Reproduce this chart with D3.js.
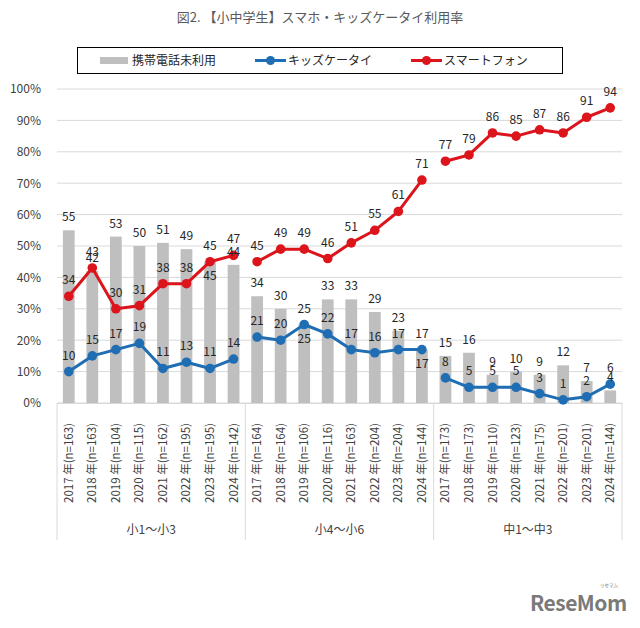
<!DOCTYPE html>
<html><head><meta charset="utf-8">
<script src="https://cdn.jsdelivr.net/npm/d3@7"></script>
<style>
body{margin:0;background:#fff;}
text{font-family:"Noto Sans CJK JP","Noto Sans",sans-serif;}
</style></head>
<body><svg id="c" width="640" height="628"></svg>
<script>
const title = "図2. 【小中学生】スマホ・キッズケータイ利用率";
const groups = ["小1～小3", "小4～小6", "中1～中3"];
const years = ["2017", "2018", "2019", "2020", "2021", "2022", "2023", "2024"];
const sampleSizes = [
  [163, 163, 104, 115, 162, 195, 195, 142],
  [164, 164, 106, 116, 163, 204, 204, 144],
  [173, 173, 110, 123, 175, 201, 201, 144]
];
const noPhone = [
  [55, 42, 53, 50, 51, 49, 45, 44],
  [34, 30, 25, 33, 33, 29, 23, 17],
  [15, 16, 9, 10, 9, 12, 7, 4]
];
const kidsPhone = [
  [10, 15, 17, 19, 11, 13, 11, 14],
  [21, 20, 25, 22, 17, 16, 17, 17],
  [8, 5, 5, 5, 3, 1, 2, 6]
];
const smartphone = [
  [34, 43, 30, 31, 38, 38, 45, 47],
  [45, 49, 49, 46, 51, 55, 61, 71],
  [77, 79, 86, 85, 87, 86, 91, 94]
];
const seriesNames = ["携帯電話未利用", "キッズケータイ", "スマートフォン"];
const yTicks = [0, 10, 20, 30, 40, 50, 60, 70, 80, 90, 100];

(function () {
const svg = d3.select("#c");
const colGray = "#bfbfbf", colBlue = "#1f6db3", colRed = "#dc141c";
const pLeft = 57, pRight = 622, pTop = 89, pBottom = 403;

const cats = [];
groups.forEach((g, gi) => years.forEach((yr, yi) => cats.push({g: gi, i: yi, key: gi + "-" + yi,
  label: yr + " 年(n=" + sampleSizes[gi][yi] + ")"})));

const x = d3.scaleBand().domain(cats.map(d => d.key)).range([pLeft, pRight]).paddingInner(0.5).paddingOuter(0.25);
const y = d3.scaleLinear().domain([0, 100]).range([pBottom, pTop]);
const cx = k => x(k) + x.bandwidth() / 2;

// title
svg.append("text").attr("x", 320).attr("y", 22).attr("text-anchor", "middle")
  .attr("font-size", 13).attr("fill", "#595959").text(title);

// gridlines
svg.append("g").selectAll("line").data(yTicks).join("line")
  .attr("x1", pLeft).attr("x2", pRight).attr("y1", d => y(d)).attr("y2", d => y(d))
  .attr("stroke", "#d9d9d9").attr("stroke-width", 1);

// y axis labels
const yAxis = d3.axisLeft(y).tickValues(yTicks).tickFormat(d => d + "%").tickSize(0).tickPadding(0);
const ya = svg.append("g").attr("transform", "translate(41,0)").call(yAxis);
ya.select(".domain").remove();
ya.selectAll("text").attr("font-size", 12).attr("fill", "#404040").attr("font-family", "'Noto Sans',sans-serif");

// bars
svg.append("g").selectAll("rect").data(cats).join("rect")
  .attr("x", d => x(d.key)).attr("width", x.bandwidth())
  .attr("y", d => y(noPhone[d.g][d.i])).attr("height", d => pBottom - y(noPhone[d.g][d.i]))
  .attr("fill", colGray);

// category axis
const step = x.step();
const groupBounds = [0, 1, 2, 3].map(i => pLeft + i * 8 * step);
svg.append("line").attr("x1", pLeft).attr("x2", pRight).attr("y1", pBottom + 0.5).attr("y2", pBottom + 0.5)
  .attr("stroke", "#d9d9d9");
svg.append("g").selectAll("line").data(groupBounds).join("line")
  .attr("x1", d => d).attr("x2", d => d).attr("y1", pBottom).attr("y2", 540)
  .attr("stroke", "#d9d9d9");
svg.append("g").selectAll("text").data(cats).join("text")
  .attr("transform", d => `translate(${cx(d.key) + 4},423) rotate(-90)`)
  .attr("text-anchor", "end").attr("font-size", 11.5).attr("fill", "#404040").text(d => d.label);
svg.append("g").selectAll("text").data(groups).join("text")
  .attr("x", (d, i) => (groupBounds[i] + groupBounds[i + 1]) / 2).attr("y", 534)
  .attr("text-anchor", "middle").attr("font-size", 12).attr("fill", "#404040").text(d => d);

// lines
function drawLine(data, color) {
  const g = svg.append("g");
  const line = d3.line().x(d => cx(d.key)).y(d => y(d.v));
  groups.forEach((gr, gi) => {
    const pts = years.map((yr, yi) => ({key: gi + "-" + yi, v: data[gi][yi]}));
    g.append("path").datum(pts).attr("d", line).attr("fill", "none")
      .attr("stroke", color).attr("stroke-width", 3).attr("stroke-linejoin", "round");
    g.selectAll(null).data(pts).join("circle").attr("cx", d => cx(d.key)).attr("cy", d => y(d.v))
      .attr("r", 4.8).attr("fill", color);
  });
}
drawLine(kidsPhone, colBlue);
drawLine(smartphone, colRed);

// data labels (bar label moved below the marker when it coincides with a line label)
const lbl = svg.append("g").attr("font-size", 12).attr("fill", "#262626").attr("text-anchor", "middle")
  .attr("font-family", "'Noto Sans',sans-serif");
cats.forEach(d => {
  const b = noPhone[d.g][d.i], k = kidsPhone[d.g][d.i], s = smartphone[d.g][d.i];
  const clash = Math.abs(b - k) < 0.5 || Math.abs(b - s) < 0.5;
  lbl.append("text").attr("x", cx(d.key)).attr("y", clash ? y(b) + 18 : y(b) - 9).text(b);
  lbl.append("text").attr("x", cx(d.key)).attr("y", y(k) - 12).text(k);
  lbl.append("text").attr("x", cx(d.key)).attr("y", y(s) - 12).text(s);
});

// legend
const lg = svg.append("g");
lg.append("rect").attr("x", 77.5).attr("y", 47.5).attr("width", 485).attr("height", 26)
  .attr("fill", "#fff").attr("stroke", "#000").attr("stroke-width", 1);
lg.append("rect").attr("x", 100).attr("y", 57).attr("width", 28).attr("height", 7).attr("fill", colGray);
lg.append("text").attr("x", 132).attr("y", 65).attr("font-size", 12).attr("fill", "#262626").text(seriesNames[0]);
[[255, colBlue, seriesNames[1]], [411, colRed, seriesNames[2]]].forEach(([lx, c, t]) => {
  lg.append("line").attr("x1", lx).attr("x2", lx + 31).attr("y1", 60.5).attr("y2", 60.5)
    .attr("stroke", c).attr("stroke-width", 3);
  lg.append("circle").attr("cx", lx + 15.5).attr("cy", 60.5).attr("r", 4.5).attr("fill", c);
  lg.append("text").attr("x", lx + 33).attr("y", 65).attr("font-size", 12).attr("fill", "#262626").text(t);
});

// watermark
svg.append("text").attr("x", 530).attr("y", 611).attr("font-size", 21).attr("font-weight", "bold")
  .attr("fill", "#7a7a7a").attr("font-family", "'Open Sans','DejaVu Sans',sans-serif")
  .attr("letter-spacing", -0.5).text("ReseMom");
svg.append("text").attr("x", 609).attr("y", 587).attr("font-size", 4.5).attr("fill", "#7a7a7a")
  .attr("text-anchor", "middle").text("リセマム");
})();
</script></body></html>
